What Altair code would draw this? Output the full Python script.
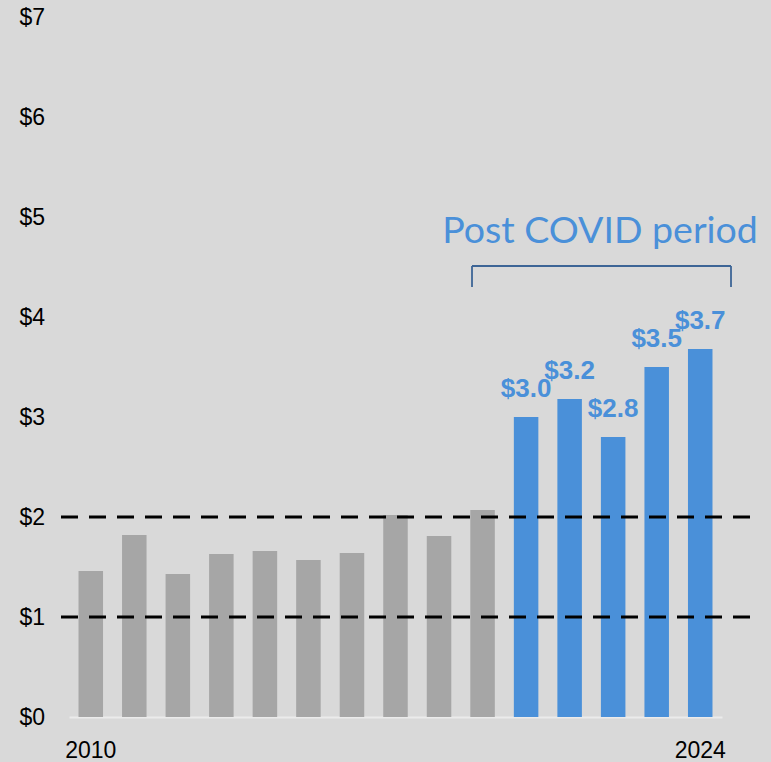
import altair as alt
import pandas as pd
import jinja2

years = [str(y) for y in range(2010, 2025)]
values = [1.46, 1.82, 1.43, 1.63, 1.66, 1.57, 1.64, 2.02, 1.81, 2.07,
          3.00, 3.18, 2.80, 3.50, 3.68]
period = ["pre"] * 10 + ["post"] * 5
ref_levels = [1, 2]
y_ticks = [0, 1, 2, 3, 4, 5, 6, 7]
x_tick_labels = ["2010", "2024"]
annotation = "Post COVID period"

BLUE = "#4a90d9"
GRAY = "#a6a6a6"
BG = "#d9d9d9"
FONT = "Liberation Sans"

df = pd.DataFrame({"year": years, "value": values, "period": period})

x_enc = alt.X("year:N", sort=years,
              scale=alt.Scale(paddingInner=0.437, paddingOuter=0.2185),
              axis=alt.Axis(values=x_tick_labels, labelAngle=0, ticks=False, tickSize=0,
                            domainColor="#ebebeb", domainWidth=2, labelPadding=22,
                            labelFontSize=23, labelFont=FONT, labelColor="#000000",
                            title=None, grid=False))
y_enc = alt.Y("value:Q",
              scale=alt.Scale(domain=[0, 7], nice=False, zero=True),
              axis=alt.Axis(values=y_ticks, format="$.0f", ticks=False, tickSize=0,
                            domain=False, grid=False, labelAlign="left", labelPadding=50,
                            labelFontSize=23, labelFont=FONT, labelColor="#000000",
                            title=None))

base = alt.Chart(df)

bars = base.mark_bar().encode(
    x=x_enc,
    y=y_enc,
    color=alt.Color("period:N", scale=alt.Scale(domain=["pre", "post"], range=[GRAY, BLUE]),
                    legend=None),
)

labels = base.transform_filter(alt.datum.period == "post").mark_text(
    font=FONT, fontSize=26, fontWeight="bold", color=BLUE, baseline="alphabetic", dy=-20
).encode(
    x=alt.X("year:N", sort=years),
    y="value:Q",
    text=alt.Text("value:Q", format="$.1f"),
)

rules = alt.Chart(pd.DataFrame({"level": ref_levels})).mark_rule(
    color="#000000", strokeWidth=3, strokeDash=[17, 11]
).encode(
    y="level:Q",
    x=alt.value(-8),
    x2=alt.value(681),
)

note_df = pd.DataFrame({"t": [annotation]})
note = alt.Chart(note_df).mark_text(
    font="Lato", fontSize=37.5, color=BLUE, align="center", baseline="alphabetic"
).encode(text="t:N", x=alt.value(531), y=alt.value(226))

BR = "#3d6596"
br_top = alt.Chart(note_df).mark_rule(color=BR, strokeWidth=1.8).encode(
    x=alt.value(403), x2=alt.value(662), y=alt.value(249))
br_left = alt.Chart(note_df).mark_rule(color=BR, strokeWidth=1.8).encode(
    x=alt.value(403), y=alt.value(249), y2=alt.value(270))
br_right = alt.Chart(note_df).mark_rule(color=BR, strokeWidth=1.8).encode(
    x=alt.value(662), y=alt.value(249), y2=alt.value(270))

chart = alt.layer(bars, rules, labels, note, br_top, br_left, br_right).properties(
    width=653, height=700,
    autosize=alt.AutoSizeParams(type="none"),
    padding={"left": 69, "top": 17, "right": 49, "bottom": 45},
    background=BG,
).configure_view(stroke=None)

PAGE = jinja2.Template("""<!DOCTYPE html>
<html>
<head>
  <meta charset="utf-8">
  <style>
    html, body { margin: 0; padding: 0; background: #d9d9d9; overflow: hidden; }
  </style>
  <script type="text/javascript" src="{{ base_url }}/vega@{{ vega_version }}"></script>
  <script type="text/javascript" src="{{ base_url }}/vega-lite@{{ vegalite_version }}"></script>
  <script type="text/javascript" src="{{ base_url }}/vega-embed@{{ vegaembed_version }}"></script>
</head>
<body>
  <div id="{{ output_div }}"></div>
  <script type="text/javascript">
    vegaEmbed("#{{ output_div }}", {{ spec }}, {{ embed_options }}).catch(console.error);
  </script>
</body>
</html>
""")

chart.save("out.html", embed_options={"renderer": "svg", "actions": False}, template=PAGE)
